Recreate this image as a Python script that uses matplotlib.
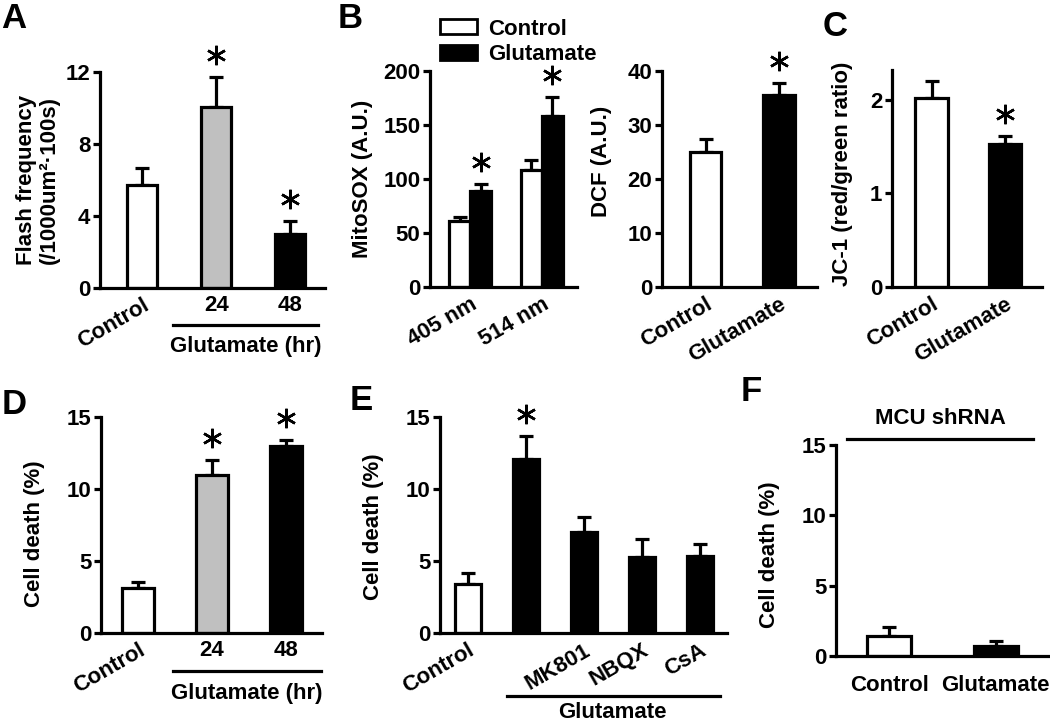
import numpy as np
import matplotlib
matplotlib.use("Agg")
import matplotlib.pyplot as plt
from matplotlib.patches import Patch
from matplotlib.transforms import ScaledTranslation, blended_transform_factory

plt.rcParams['font.family'] = ['Liberation Sans', 'DejaVu Sans']
plt.rcParams['font.weight'] = 'bold'
plt.rcParams['axes.labelweight'] = 'bold'
plt.rcParams['font.size'] = 16

# ---- data ----
a_labels = ["Control", "24", "48"]
a_vals = [5.7, 10.05, 3.0]
a_err = [0.95, 1.65, 0.7]

b1_groups = ["405 nm", "514 nm"]
b1_ctrl = [61, 108]
b1_ctrl_err = [4, 10]
b1_glu = [89, 158]
b1_glu_err = [6, 18]

b2_labels = ["Control", "Glutamate"]
b2_vals = [25.0, 35.5]
b2_err = [2.5, 2.3]

c_labels = ["Control", "Glutamate"]
c_vals = [2.02, 1.53]
c_err = [0.18, 0.08]

d_labels = ["Control", "24", "48"]
d_vals = [3.1, 11.0, 12.97]
d_err = [0.45, 1.0, 0.45]

e_labels = ["Control", "", "MK801", "NBQX", "CsA"]
e_vals = [3.4, 12.05, 7.03, 5.3, 5.35]
e_err = [0.75, 1.6, 1.0, 1.25, 0.8]

f_labels = ["Control", "Glutamate"]
f_vals = [1.42, 0.74]
f_err = [0.62, 0.35]

W, H = 1050, 724
fig = plt.figure(figsize=(W / 100, H / 100), dpi=100)
GRAY = "#c0c0c0"
LW = 2.3
TS = 16


def px_axes(x0, x1, ytop, ybot):
    return fig.add_axes([x0 / W, 1 - ybot / H, (x1 - x0) / W, (ybot - ytop) / H])


def style(ax, ylim, yticks):
    for s in ["top", "right"]:
        ax.spines[s].set_visible(False)
    for s in ["left", "bottom"]:
        ax.spines[s].set_linewidth(LW)
    ax.set_ylim(*ylim)
    ax.set_yticks(yticks)
    ax.tick_params(axis="y", width=LW, length=5, pad=2, labelsize=TS)
    ax.tick_params(axis="x", length=0, pad=5, labelsize=TS)


def bars(ax, x, vals, err, colors, width):
    ax.errorbar(x, vals, yerr=[np.zeros(len(vals)), err], fmt="none",
                ecolor="black", elinewidth=LW, capsize=5, capthick=LW, zorder=1)
    ax.bar(x, vals, width=width, color=colors, edgecolor="black", linewidth=LW, zorder=2)


def stars(ax, x, y, off=16):
    tr = ax.transData + ScaledTranslation(0, off / 72, fig.dpi_scale_trans)
    ax.plot(x, y, linestyle="none", marker=(6, 2, 0), markersize=14,
            markeredgewidth=1.8, color="black", transform=tr, clip_on=False)


def ylabel(ax, text, xfrac, yfrac=0.5):
    ax.set_ylabel(text, fontsize=16, va="center", ha="center", linespacing=1.15)
    ax.yaxis.set_label_coords(xfrac, yfrac)


def rot_labels(ax, which):
    for i, lab in enumerate(ax.get_xticklabels()):
        if i in which:
            lab.set_rotation(30)
            lab.set_ha("right")
            lab.set_va("top")
            lab.set_rotation_mode("anchor")


def underline(ax, x0, x1, y, text=None, ty=None, tx=None, va="center"):
    tr = blended_transform_factory(ax.transData, ax.transAxes)
    ax.plot([x0, x1], [y, y], color="black", lw=LW, transform=tr, clip_on=False)
    if text:
        ax.text(tx if tx is not None else (x0 + x1) / 2, ty, text, transform=tr,
                ha="center", va=va, fontsize=TS)


# ---- A ----
ax = px_axes(100, 325, 72, 288)
x = np.arange(3)
bars(ax, x, a_vals, a_err, ["white", GRAY, "black"], 0.41)
style(ax, (0, 12), [0, 4, 8, 12])
ax.set_xlim(-0.57, 2.47)
ax.set_xticks(x)
ax.set_xticklabels(a_labels)
rot_labels(ax, [0])
stars(ax, x[1:], np.array(a_vals[1:]) + np.array(a_err[1:]))
ylabel(ax, "Flash frequency\n(/1000um²·100s)", -0.275)
underline(ax, 0.41, 2.38, -0.171, "Glutamate (hr)", -0.27)

# ---- B left ----
ax = px_axes(430, 577, 71, 287)
x = np.arange(2)
bw = 0.29
bars(ax, x - bw / 2, b1_ctrl, b1_ctrl_err, "white", bw)
bars(ax, x + bw / 2, b1_glu, b1_glu_err, "black", bw)
style(ax, (0, 200), [0, 50, 100, 150, 200])
ax.set_xlim(-0.56, 1.49)
ax.set_xticks(x)
ax.set_xticklabels(b1_groups)
rot_labels(ax, [0, 1])
stars(ax, x + bw / 2, np.array(b1_glu) + np.array(b1_glu_err))
ylabel(ax, "MitoSOX (A.U.)", -0.46)
handles = [Patch(facecolor="white", edgecolor="black", linewidth=2),
           Patch(facecolor="black", edgecolor="black", linewidth=2)]
fig.legend(handles, ["Control", "Glutamate"], loc="upper left",
           bbox_to_anchor=(424 / W, 1 - 3 / H), frameon=False, fontsize=TS,
           handlelength=1.7, handleheight=0.65, handletextpad=0.5,
           labelspacing=0.2, borderpad=0.2)

# ---- B right ----
ax = px_axes(662, 817, 71, 287)
x = np.arange(2)
bars(ax, x, b2_vals, b2_err, ["white", "black"], 0.43)
style(ax, (0, 40), [0, 10, 20, 30, 40])
ax.set_xlim(-0.59, 1.51)
ax.set_xticks(x)
ax.set_xticklabels(b2_labels)
rot_labels(ax, [0, 1])
stars(ax, x[1:], np.array(b2_vals[1:]) + np.array(b2_err[1:]))
ylabel(ax, "DCF (A.U.)", -0.39, 0.58)

# ---- C ----
ax = px_axes(892, 1042, 70, 287)
x = np.arange(2)
bars(ax, x, c_vals, c_err, ["white", "black"], 0.44)
style(ax, (0, 2.32), [0, 1, 2])
ax.set_xlim(-0.54, 1.51)
ax.set_xticks(x)
ax.set_xticklabels(c_labels)
rot_labels(ax, [0, 1])
stars(ax, x[1:], np.array(c_vals[1:]) + np.array(c_err[1:]))
ylabel(ax, "JC-1 (red/green ratio)", -0.33, 0.52)

# ---- D ----
ax = px_axes(101, 322, 417, 633)
x = np.arange(3)
bars(ax, x, d_vals, d_err, ["white", GRAY, "black"], 0.43)
style(ax, (0, 15), [0, 5, 10, 15])
ax.set_xlim(-0.50, 2.49)
ax.set_xticks(x)
ax.set_xticklabels(d_labels)
rot_labels(ax, [0])
stars(ax, x[1:], np.array(d_vals[1:]) + np.array(d_err[1:]))
ylabel(ax, "Cell death (%)", -0.30, 0.46)
underline(ax, 0.47, 2.47, -0.177, "Glutamate (hr)", -0.28)

# ---- E ----
ax = px_axes(440, 727, 417, 633)
x = np.arange(5)
bars(ax, x, e_vals, e_err, ["white"] + ["black"] * 4, 0.45)
style(ax, (0, 15), [0, 5, 10, 15])
ax.set_xlim(-0.48, 4.47)
ax.set_xticks(x)
ax.set_xticklabels(e_labels)
rot_labels(ax, [0, 1, 2, 3, 4])
stars(ax, x[1:2], np.array(e_vals[1:2]) + np.array(e_err[1:2]))
ylabel(ax, "Cell death (%)", -0.23, 0.49)
# baseline just above the bottom edge of the figure
underline(ax, 0.67, 4.35, -0.293, "Glutamate", (633 - 718) / 216.0, tx=2.5, va="baseline")

# ---- F ----
ax = px_axes(836, 1050, 445, 656)
x = np.arange(2)
bars(ax, x, f_vals, f_err, ["white", "black"], 0.41)
style(ax, (0, 15), [0, 5, 10, 15])
ax.set_xlim(-0.50, 1.51)
ax.set_xticks(x)
ax.set_xticklabels(f_labels)
ax.tick_params(axis="x", pad=14)
ylabel(ax, "Cell death (%)", -0.31, 0.48)
underline(ax, -0.40, 1.35, 1.027, "MCU shRNA", 1.126, tx=0.48)

# ---- panel letters ----
for lab, (px, py) in {"A": (14, 18), "B": (350, 18), "C": (835, 27),
                      "D": (14, 404), "E": (361, 401), "F": (751, 392)}.items():
    fig.text(px / W, 1 - py / H, lab, fontsize=25, ha="center", va="center")

fig.savefig("out.png", dpi=100)
